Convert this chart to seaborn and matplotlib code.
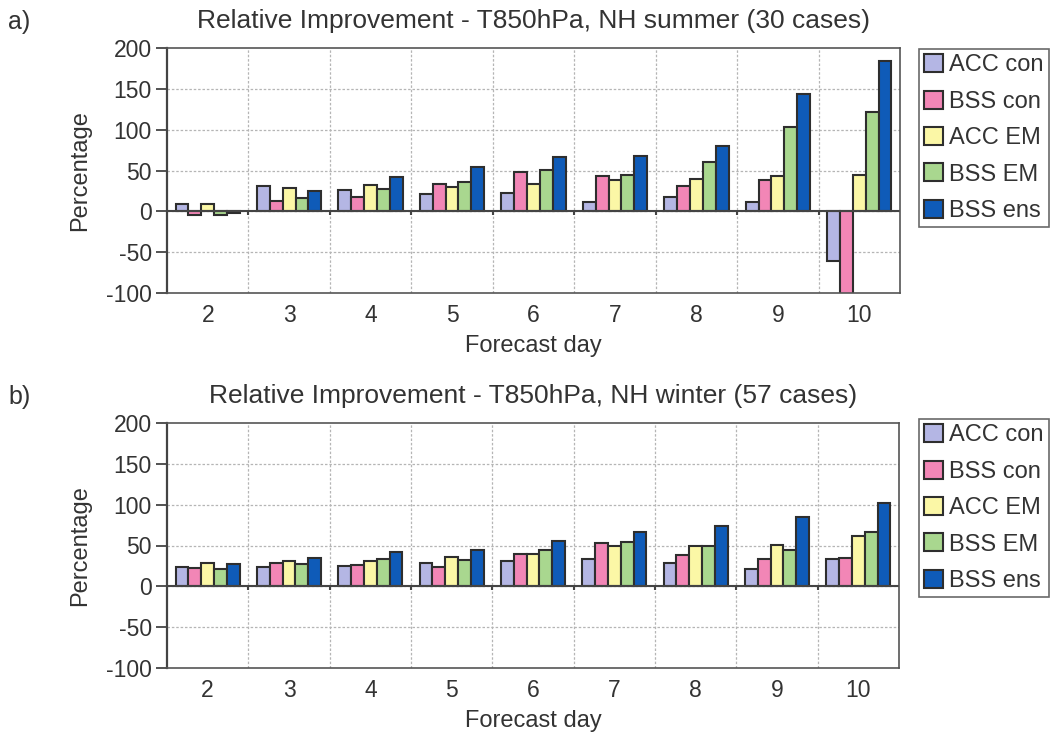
import numpy as np
import pandas as pd
import matplotlib
matplotlib.use("Agg")
import matplotlib.pyplot as plt
import seaborn as sns

days = ["2", "3", "4", "5", "6", "7", "8", "9", "10"]
series = ["ACC con", "BSS con", "ACC EM", "BSS EM", "BSS ens"]

summer_acc_con = [9, 31, 26, 21, 23, 12, 18, 12, -61]
summer_bss_con = [-4, 13, 17, 34, 48, 43, 31, 38, -105]
summer_acc_em = [9, 28, 32, 30, 34, 38, 39, 43, 45]
summer_bss_em = [-4, 16, 27, 36, 51, 44, 60, 103, 122]
summer_bss_ens = [-2, 25, 42, 54, 66, 68, 80, 144, 184]

winter_acc_con = [24, 24, 25, 28, 31, 34, 29, 21, 33]
winter_bss_con = [23, 28, 26, 24, 39, 53, 38, 34, 35]
winter_acc_em = [28, 31, 31, 36, 40, 49, 49, 51, 62]
winter_bss_em = [21, 27, 33, 32, 44, 54, 50, 45, 66]
winter_bss_ens = [27, 35, 42, 45, 55, 66, 74, 85, 102]

titles = ["Relative Improvement - T850hPa, NH summer (30 cases)",
          "Relative Improvement - T850hPa, NH winter (57 cases)"]
panel_tags = ["a)", "b)"]
yticks = [-100, -50, 0, 50, 100, 150, 200]

colors = ["#b4b6e4", "#f286b6", "#fbf7a6", "#a9d78f", "#0f5bb8"]
TXT = "#333333"


def long_df(vals):
    rows = []
    for s, v in zip(series, vals):
        for d, x in zip(days, v):
            rows.append({"day": d, "series": s, "value": x})
    return pd.DataFrame(rows)


df_summer = long_df([summer_acc_con, summer_bss_con, summer_acc_em, summer_bss_em, summer_bss_ens])
df_winter = long_df([winter_acc_con, winter_bss_con, winter_acc_em, winter_bss_em, winter_bss_ens])

sns.set_theme(style="white")
plt.rcParams["font.family"] = ["Liberation Sans", "DejaVu Sans"]

fig = plt.figure(figsize=(10.55, 7.36), dpi=100)
W, H = 1055, 736
axes_px = [(167, 48, 900, 293), (167, 423, 899, 668)]
leg_px = [(919, 49), (919, 419)]
title_y = [21, 396]

for i, (df, (x0, y0, x1, y1)) in enumerate(zip([df_summer, df_winter], axes_px)):
    ax = fig.add_axes([x0 / W, 1 - y1 / H, (x1 - x0) / W, (y1 - y0) / H])
    sns.barplot(data=df, x="day", y="value", hue="series", order=days,
                hue_order=series, palette=colors, width=0.79, ax=ax,
                edgecolor="#2e2e2e", linewidth=1.5, saturation=1, errorbar=None)
    ax.set_ylim(-100, 200)
    ax.set_xlim(-0.5, len(days) - 0.5)
    ax.set_yticks(yticks)
    ax.set_yticklabels([str(t) for t in yticks], fontsize=16.5, color=TXT)
    ax.tick_params(axis="y", direction="out", length=8, width=1.3, color="#444444", pad=3, left=True)
    ax.tick_params(axis="x", length=0, labelsize=16.5, labelcolor=TXT, pad=8)
    ax.set_xlabel("Forecast day", fontsize=17, color=TXT)
    ax.xaxis.set_label_coords(0.5, -42 / (y1 - y0))
    ax.xaxis.label.set_va("top")
    ax.set_ylabel("Percentage", fontsize=17, color=TXT)
    ax.yaxis.set_label_coords((91 - x0) / (x1 - x0), 0.5)
    ax.yaxis.label.set_va("bottom")
    # grid
    for yv in yticks[1:-1]:
        ax.axhline(yv, color="#b5b5b5", linestyle=(0, (2, 1.5)), linewidth=0.9, zorder=0)
    bounds = np.arange(len(days) - 1) + 0.5
    for b in bounds:
        ax.axvline(b, color="#b5b5b5", linestyle=(0, (2, 1.5)), linewidth=0.9, zorder=0)
    ax.axhline(0, color="#444444", linewidth=1.5, zorder=1)
    ax.vlines(bounds, -5, 0, color="#444444", linewidth=1.5, zorder=1)
    for side in ["top", "right", "bottom"]:
        ax.spines[side].set_color("#555555")
        ax.spines[side].set_linewidth(1.2)
    ax.spines["left"].set_color("#444444")
    ax.spines["left"].set_linewidth(1.6)
    fig.text((x0 + x1) / 2 / W, 1 - title_y[i] / H, titles[i], fontsize=19,
             color=TXT, ha="center", va="center")
    fig.text(8 / W, 1 - (title_y[i] + 1) / H, panel_tags[i], fontsize=18,
             color=TXT, va="center")
    handles, labels = ax.get_legend_handles_labels()
    leg = ax.legend(handles, labels, loc="upper left",
                    bbox_to_anchor=(leg_px[i][0] / W, 1 - leg_px[i][1] / H),
                    bbox_transform=fig.transFigure, frameon=True, fancybox=False,
                    edgecolor="#444444", fontsize=17, handlelength=0.8, handleheight=0.8,
                    handletextpad=0.25, labelspacing=0.6, borderpad=0.22,
                    borderaxespad=0, labelcolor=TXT)
    leg.get_frame().set_linewidth(1.2)

fig.savefig("out.png", dpi=100, facecolor="white")
